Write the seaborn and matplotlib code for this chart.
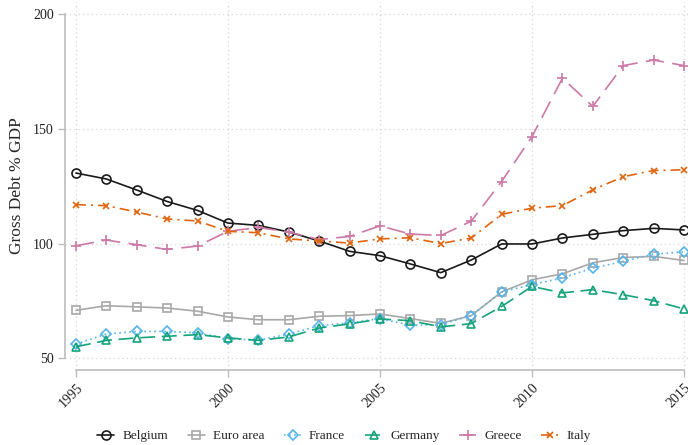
import matplotlib
matplotlib.use("Agg")
import matplotlib.pyplot as plt
import numpy as np
import pandas as pd
import seaborn as sns

years = list(range(1995, 2016))

belgium = [130.7, 128.1, 123.3, 118.3, 114.4, 108.9, 107.9, 105.0, 101.1, 96.6,
           94.7, 91.1, 87.3, 92.8, 99.8, 99.8, 102.4, 104.0, 105.6, 106.6, 105.9]
euro_area = [70.9, 72.9, 72.4, 71.9, 70.5, 68.0, 66.8, 66.8, 68.3, 68.6,
             69.3, 67.3, 65.2, 68.6, 78.9, 84.2, 86.8, 91.6, 93.9, 94.4, 92.6]
france = [56.2, 60.6, 61.7, 61.7, 61.1, 58.6, 57.8, 60.6, 64.2, 65.4,
          67.3, 64.4, 64.7, 68.6, 78.9, 82.1, 85.0, 89.3, 92.2, 95.4, 96.3]
germany = [55.0, 57.8, 58.9, 59.6, 60.3, 58.9, 57.8, 59.3, 63.2, 65.0,
           67.1, 66.4, 63.7, 65.1, 72.6, 81.3, 78.5, 79.9, 77.7, 75.1, 71.5]
greece = [99.0, 101.5, 99.5, 97.4, 98.9, 105.3, 107.0, 105.0, 101.7, 103.1,
          107.7, 104.1, 103.5, 109.7, 127.0, 146.6, 172.0, 159.7, 177.5, 179.9, 177.5]
italy = [116.9, 116.5, 113.7, 110.7, 109.8, 105.3, 104.7, 102.0, 101.1, 100.2,
         102.0, 102.5, 100.0, 102.4, 112.7, 115.4, 116.5, 123.4, 129.1, 131.8, 132.1]

countries = ["Belgium", "Euro area", "France", "Germany", "Greece", "Italy"]
series = [belgium, euro_area, france, germany, greece, italy]

y_ticks = [50, 100, 150, 200]
x_ticks = [1995, 2000, 2005, 2010, 2015]

df = pd.DataFrame({
    "year": np.tile(years, len(countries)),
    "debt": np.concatenate(series),
    "country": np.repeat(countries, len(years)),
})

palette = {
    "Belgium": "#1a1a1a",
    "Euro area": "#a8a8a8",
    "France": "#56b4e9",
    "Germany": "#14a37a",
    "Greece": "#cc79a7",
    "Italy": "#e0650f",
}
markers = {
    "Belgium": "o",
    "Euro area": "s",
    "France": "D",
    "Germany": "^",
    "Greece": "+",
    "Italy": "x",
}
dashes = {
    "Belgium": "",
    "Euro area": "",
    "France": (1, 2),
    "Germany": (9, 4),
    "Greece": (11, 5),
    "Italy": (6, 3, 1.2, 3),
}
msize = {"Belgium": 6.5, "Euro area": 6.0, "France": 5.5, "Germany": 5.8,
         "Greece": 6.5, "Italy": 4.8}

sns.set_theme(style="white")
plt.rcParams["font.family"] = ["Liberation Serif", "DejaVu Serif"]

fig = plt.figure(figsize=(6.88, 4.45), dpi=100)
ax = fig.add_axes([65 / 688, 1 - 370 / 445, 1 - 65 / 688, (370 - 2) / 445])

sns.lineplot(data=df, x="year", y="debt", hue="country", style="country",
             hue_order=countries, style_order=countries,
             palette=palette, markers=False, dashes=dashes,
             linewidth=1.2, legend=False, ax=ax)

# open markers in the series colour ('+' and 'x' are line-art glyphs)
for line, name in zip(ax.lines, countries):
    c = palette[name]
    line.set_marker(markers[name])
    line.set_markerfacecolor("none")
    line.set_markeredgecolor(c)
    line.set_markeredgewidth(1.2)
    line.set_markersize(msize[name])
    line.set_zorder(3)

ax.set_xlim(1994.64, 2015.13)
ax.set_ylim(44.9, 205.2)
ax.set_xticks(x_ticks)
ax.set_yticks(y_ticks)
ax.set_xticklabels([str(t) for t in x_ticks], rotation=45, ha="right",
                   va="top", rotation_mode="anchor", fontsize=10)
ax.set_yticklabels([str(t) for t in y_ticks], fontsize=10)
ax.set_xlabel("")
ax.set_ylabel("Gross Debt % GDP", fontsize=12.5, labelpad=6)

ax.grid(True, color="#d6d6d6", linestyle=(0, (1, 2.5)), linewidth=0.9)
ax.set_axisbelow(True)

for side in ["top", "right"]:
    ax.spines[side].set_visible(False)
for side in ["left", "bottom"]:
    ax.spines[side].set_color("#bdbdbd")
    ax.spines[side].set_linewidth(1.2)
ax.spines["left"].set_bounds(50, 200)
ax.spines["bottom"].set_bounds(1995, 2015)
ax.tick_params(axis="both", which="major", direction="out", length=5,
               width=1.0, color="#bdbdbd", labelcolor="#222222", pad=3,
               left=True, bottom=True)

fig.legend(handles=list(ax.lines), labels=countries, loc="center",
           bbox_to_anchor=(0.5, 1 - 436 / 445), ncol=6, frameon=False,
           fontsize=9.5, handlelength=1.3, handletextpad=0.6,
           columnspacing=1.5, numpoints=1)

fig.savefig("out.png", dpi=100)
